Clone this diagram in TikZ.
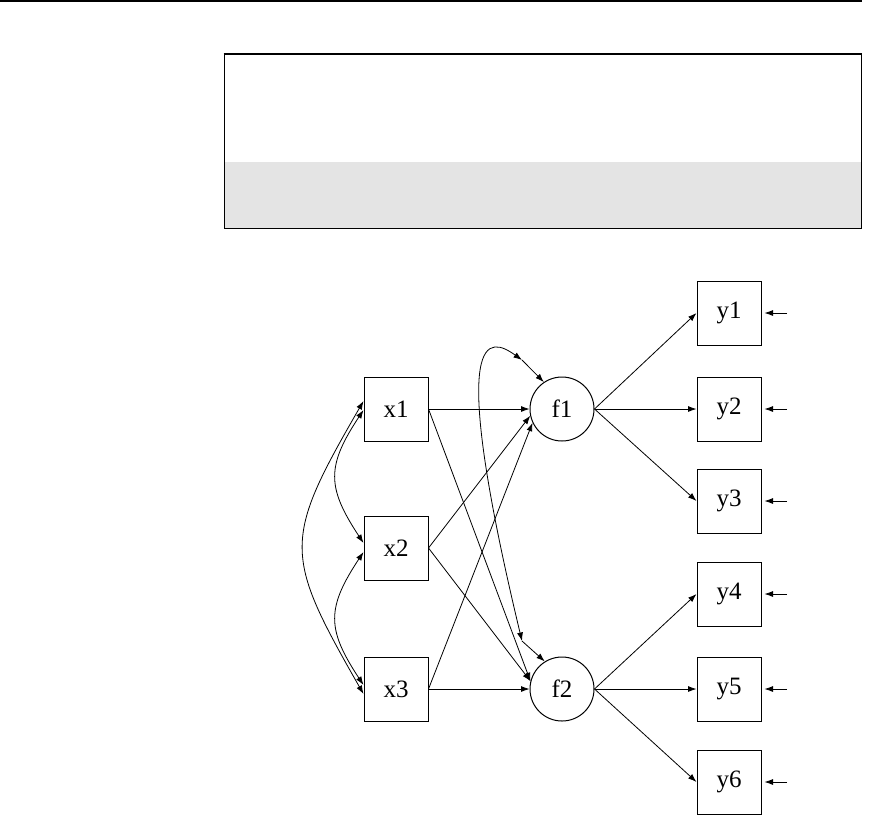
\documentclass[tikz,border=0pt]{standalone}
\usepackage{fontspec}
\setmainfont{Liberation Serif}
\usetikzlibrary{arrows.meta}
\definecolor{band}{HTML}{E4E4E4}
\begin{document}
\begin{tikzpicture}[x=1pt,y=-1pt,
  obs/.style={draw,line width=1pt,minimum size=64pt,inner sep=0pt,font=\fontsize{25}{29}\selectfont},
  lat/.style={draw,circle,line width=1pt,minimum size=64pt,inner sep=0pt,font=\fontsize{25}{29}\selectfont},
  arr/.style={-{Latex[length=8.5pt,width=6pt]},line width=0.8pt},
  cov/.style={{Latex[length=8.5pt,width=6pt]}-{Latex[length=8.5pt,width=6pt]},line width=0.8pt}]
\useasboundingbox (0,0) rectangle (873,815);
% header rule and frame
\draw[line width=2pt] (0,1) -- (862,1);
\fill[band] (224,162) rectangle (861,228);
\draw[line width=1pt] (224,53) -- (224,228) -- (861,228) -- (861,53);
\draw[line width=2pt] (223.5,54) -- (861.5,54);
% nodes
\node[obs] (x1) at (396,409) {x1};
\node[obs] (x2) at (396,548) {x2};
\node[obs] (x3) at (396,689) {x3};
\node[lat] (f1) at (562,409) {f1};
\node[lat] (f2) at (562,689) {f2};
\node[obs] (y1) at (729,313) {y1};
\node[obs] (y2) at (729,409) {y2};
\node[obs] (y3) at (729,501) {y3};
\node[obs] (y4) at (729,594) {y4};
\node[obs] (y5) at (729,689) {y5};
\node[obs] (y6) at (729,782) {y6};
% residual sources
\foreach \i/\yy in {1/313,2/409,3/501,4/594,5/689,6/782}{
  \coordinate (r\i) at (787,\yy);
  \draw[arr,shorten >=3pt] (r\i) -- (y\i);
}
% regressions
\draw[arr] (x1.east) -- (f1.west);
\draw[arr] (x1.east) -- (f2.166);
\draw[arr] (x2.east) -- (f1.192);
\draw[arr] (x2.east) -- (f2.166);
\draw[arr] (x3.east) -- (f1.205);
\draw[arr] (x3.east) -- (f2.west);
% loadings
\foreach \y in {y1,y2,y3}{\draw[arr] (f1.east) -- (\y.west);}
\foreach \y in {y4,y5,y6}{\draw[arr] (f2.east) -- (\y.west);}
% covariances among x
\draw[cov] ([yshift=8pt]x1.west) .. controls +(-81,140) and +(-80,-140) .. ([yshift=-5pt]x3.west);
\draw[cov] ([yshift=-1pt]x1.west) .. controls +(-37,56) and +(-37,-56) .. ([yshift=5pt]x2.west);
\draw[cov] ([yshift=-4pt]x2.west) .. controls +(-37,56) and +(-37,-56) .. ([yshift=4pt]x3.west);
% residual covariance f1 with f2
\coordinate (c1) at (522,360);
\coordinate (c2) at (522,641);
\draw[arr] (c1) -- (f1.124);
\draw[arr] (c2) -- (f2.122);
\draw[cov] (c2) .. controls +(-77,-321) and +(-32,-23) .. (c1);
\end{tikzpicture}
\end{document}
